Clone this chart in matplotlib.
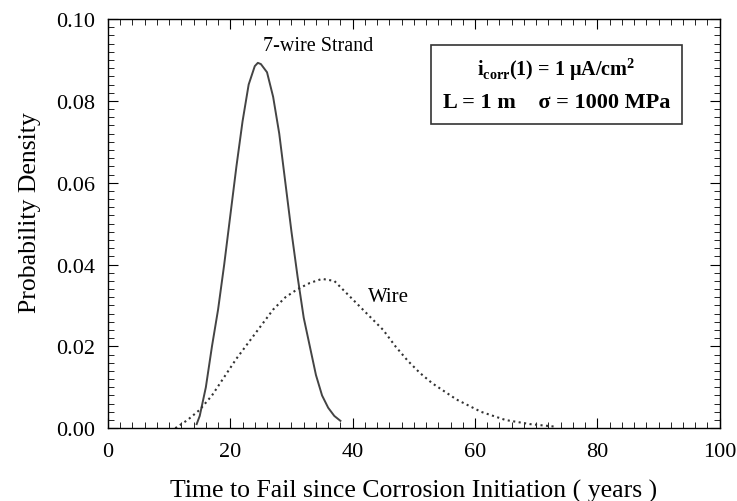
import numpy as np
import matplotlib
matplotlib.use('Agg')
import matplotlib.pyplot as plt
from matplotlib.ticker import MultipleLocator

plt.rcParams['font.family'] = ['Liberation Serif', 'DejaVu Serif']
plt.rcParams['mathtext.fontset'] = 'custom'
plt.rcParams['mathtext.rm'] = 'Liberation Serif:bold'
plt.rcParams['mathtext.bf'] = 'Liberation Serif:bold'

# 7-wire strand pdf
strand_t = [14.5, 15, 16, 17, 18, 19, 20, 21, 22, 23, 24, 24.5, 25, 26, 27, 28,
            29, 30, 31, 32, 33, 34, 35, 36, 37, 38]
strand_p = [0.001, 0.003, 0.010, 0.020, 0.029, 0.040, 0.052, 0.064, 0.075, 0.084,
            0.0885, 0.0893, 0.089, 0.087, 0.081, 0.072, 0.060, 0.048, 0.037, 0.027,
            0.020, 0.013, 0.008, 0.005, 0.003, 0.0018]

# single wire pdf
wire_t = [11, 13, 15, 17, 19, 21, 23, 25, 27, 29, 31, 33, 35, 37, 39, 41, 43,
          45, 47, 49, 51, 53, 55, 57, 59, 61, 63, 65, 67, 69, 71, 73]
wire_p = [0.0, 0.002, 0.0045, 0.008, 0.0125, 0.017, 0.021, 0.025, 0.029, 0.032,
          0.034, 0.0355, 0.0365, 0.036, 0.033, 0.030, 0.027, 0.024, 0.020,
          0.0165, 0.0135, 0.011, 0.009, 0.007, 0.0055, 0.004, 0.003, 0.002,
          0.0015, 0.001, 0.0007, 0.0004]

fig = plt.figure(figsize=(7.37, 5.02), dpi=100)
ax = fig.add_axes([0.1465, 0.145, 0.830, 0.815])

ax.plot(strand_t, strand_p, '-', color='#444444', lw=1.4)
ax.plot(wire_t, wire_p, ':', color='#333333', lw=1.5)

ax.set_xlim(0, 100)
ax.set_ylim(0, 0.10)
ax.xaxis.set_major_locator(MultipleLocator(20))
ax.xaxis.set_minor_locator(MultipleLocator(2))
ax.yaxis.set_major_locator(MultipleLocator(0.02))
ax.yaxis.set_minor_locator(MultipleLocator(0.002))
ax.yaxis.set_major_formatter(matplotlib.ticker.FormatStrFormatter('%.2f'))
ax.tick_params(which='both', direction='in', top=True, right=True, labelsize=16)
ax.tick_params(which='major', length=7)
ax.tick_params(axis='x', which='major', pad=10)
ax.tick_params(axis='y', which='major', pad=9)
ax.tick_params(which='minor', length=4)
for s in ax.spines.values():
    s.set_linewidth(1.0)

ax.set_xlabel('Time to Fail since Corrosion Initiation ( years )', fontsize=18.5,
              labelpad=13)
ax.set_ylabel('Probability Density', fontsize=18.5, labelpad=12)
ax.yaxis.set_label_coords(-0.11, 0.53)

ax.text(25.4, 0.0925, '7-wire Strand', fontsize=14.5)
ax.text(42.5, 0.031, 'Wire', fontsize=15)

ax.text(0.733, 0.878, r'$\mathbf{i}_{\mathbf{corr}}$(1) = 1 μA/cm$^{\mathbf{2}}$',
        transform=ax.transAxes, ha='center', va='center', fontsize=14.5,
        fontweight='bold')
ax.text(0.733, 0.797, 'L = 1 m    σ = 1000 MPa',
        transform=ax.transAxes, ha='center', va='center', fontsize=16,
        fontweight='bold')
box = plt.Rectangle((0.528, 0.743), 0.411, 0.193, transform=ax.transAxes,
                    fill=False, lw=1.2, color='#333333')
ax.add_patch(box)

fig.savefig('out.png', dpi=100)
